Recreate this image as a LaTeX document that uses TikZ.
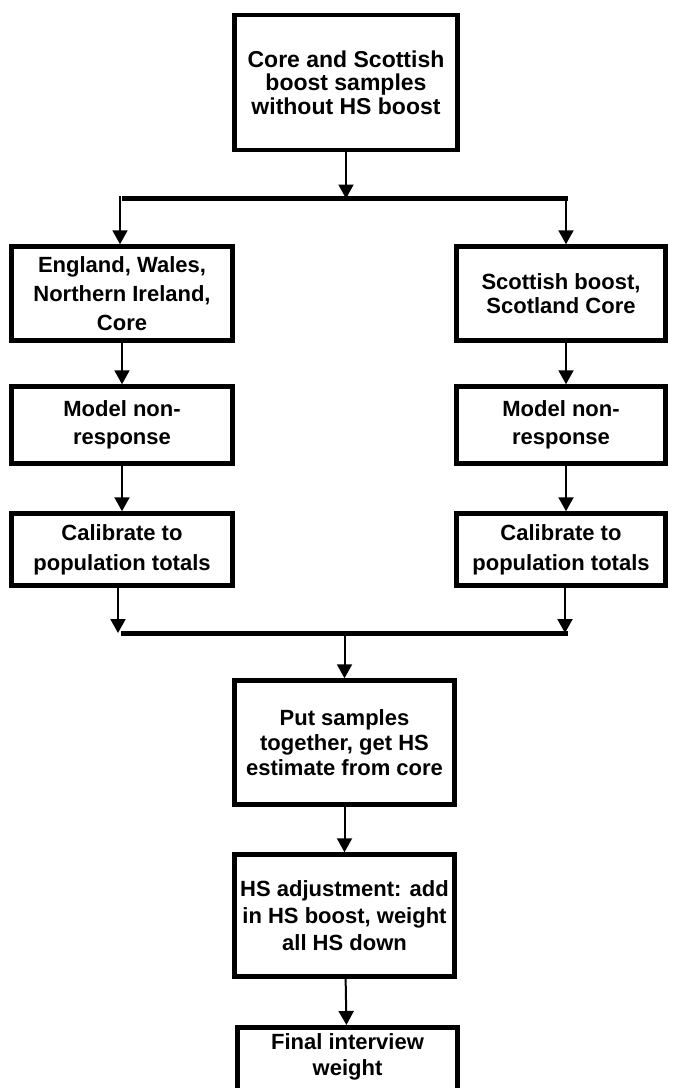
\documentclass[tikz,border=0pt]{standalone}
\usepackage{fontspec}
\setmainfont{Liberation Sans}
\usetikzlibrary{arrows.meta}
\tikzset{
  stage/.style={draw, line width=4.5pt, align=center, inner sep=2pt,
    font=\bfseries\fontsize{22}{#1}\selectfont},
  stage/.default=26,
  arr/.style={-{Triangle[width=15pt,length=14pt]}, line width=2pt},
  bar/.style={line width=5pt}
}
\begin{document}
\begin{tikzpicture}[x=1pt,y=-1pt]
\clip (0,0) rectangle (675,1088);
\fill[white] (0,0) rectangle (675,1088);
% boxes
\node[stage=23.5, minimum width=223, minimum height=135, font=\bfseries\fontsize{23}{23.5}\selectfont] (top) at (346,82.5) {Core and Scottish\\boost samples\\without HS boost};
\node[stage=29, minimum width=221, minimum height=94] (eng) at (122,293.5) {England, Wales,\\Northern Ireland,\\Core};
\node[stage=23.5, minimum width=209, minimum height=94] (scot) at (561,293.5) {Scottish boost,\\Scotland Core};
\node[stage=28, minimum width=221, minimum height=77] (modelL) at (122,425) {Model non-\\response};
\node[stage=28, minimum width=209, minimum height=77] (modelR) at (561,425) {Model non-\\response};
\node[stage=30, minimum width=221, minimum height=72] (calL) at (122,549.5) {Calibrate to\\population totals};
\node[stage=30, minimum width=209, minimum height=72] (calR) at (561,549.5) {Calibrate to\\population totals};
\node[stage=25, minimum width=220, minimum height=124] (put) at (344.5,742.5) {Put samples\\together, get HS\\estimate from core};
\node[stage=26.7, minimum width=220, minimum height=122] (hs) at (344.5,915.5) {HS adjustment: add\\in HS boost, weight\\all HS down};
\node[stage=26, minimum width=220, minimum height=62, inner ysep=6pt, text depth=60pt, anchor=north] (final) at (347.5,1025) {Final interview\\weight};
% split bar
\coordinate (splitL) at (120,198.5);
\coordinate (splitR) at (566,198.5);
\draw[bar] (122,198.5) -- (568,198.5);
\draw[arr] (top.south) -- (top.south |- splitL);
\draw[arr] (splitL) ++(0,-3) -- (splitL |- eng.north);
\draw[arr] (splitR) ++(0,-3) -- (splitR |- scot.north);
\draw[arr] (eng) -- (modelL);
\draw[arr] (scot.south -| splitR) -- (modelR.north -| splitR);
\draw[arr] (modelL) -- (calL);
\draw[arr] (modelR.south -| splitR) -- (calR.north -| splitR);
% merge bar
\coordinate (mergeL) at (118,633);
\coordinate (mergeR) at (565,633);
\draw[bar] (121,633) -- (568,633);
\draw[arr] (calL.south -| mergeL) -- (mergeL);
\draw[arr] (calR.south -| mergeR) -- (mergeR);
\draw[arr] (put.north |- mergeL) -- (put.north);
\draw[arr] (put) -- (hs);
\draw[arr] (hs) -- (final);
\end{tikzpicture}
\end{document}
